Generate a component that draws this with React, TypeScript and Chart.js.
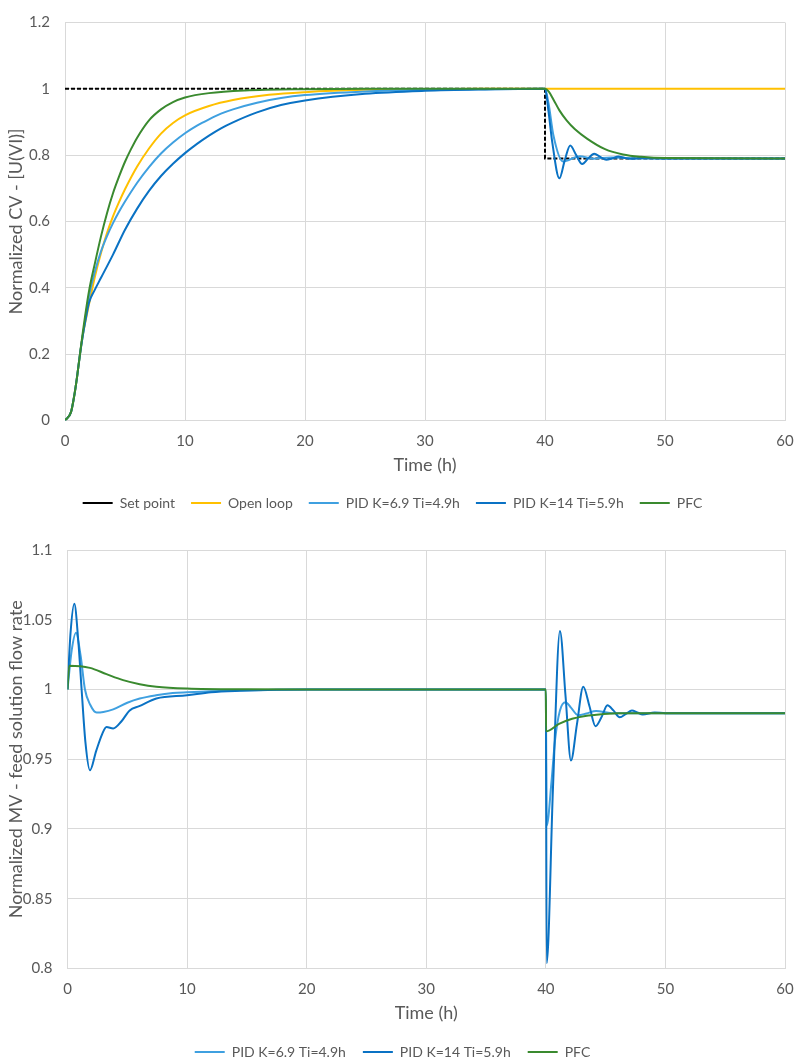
import React, { useEffect, useRef } from "react";
import { Chart, registerables } from "chart.js";

Chart.register(...registerables);

const FONT = "Lato, 'Open Sans', sans-serif";
const GREY = "#595959";
const GRID = "#d9d9d9";

// axis ticks
const timeTicks = [0, 10, 20, 30, 40, 50, 60];
const cvTicks = [0, 0.2, 0.4, 0.6, 0.8, 1, 1.2];
const mvTicks = [0.8, 0.85, 0.9, 0.95, 1, 1.05, 1.1];

// top panel - normalized CV
const setPointT = [0, 40, 40, 60];
const setPointY = [1, 1, 0.79, 0.79];

const openLoopT = [0, 0.5, 0.75, 1, 1.25, 1.5, 2, 2.5, 3, 3.5, 4, 4.5, 5, 6, 7, 8, 9, 10, 12, 14, 17, 20, 25, 30, 35, 40, 60];
const openLoopY = [0, 0.025, 0.07, 0.13, 0.2, 0.26, 0.35, 0.435, 0.505, 0.565, 0.615, 0.658, 0.697, 0.765, 0.82, 0.865, 0.897, 0.92, 0.948, 0.966, 0.982, 0.99, 0.997, 0.999, 1, 1, 1];

const pid69T = [0, 0.5, 0.75, 1, 1.25, 1.5, 2, 2.5, 3, 3.5, 4, 4.5, 5, 6, 7, 8, 9, 10, 11, 12, 13, 14, 16, 18, 20, 25, 30, 35, 40, 40.3, 40.7, 41.5, 42.9, 44, 45.5, 48, 60];
const pid69Y = [0, 0.025, 0.07, 0.13, 0.2, 0.26, 0.375, 0.45, 0.51, 0.556, 0.595, 0.629, 0.66, 0.716, 0.764, 0.805, 0.838, 0.866, 0.889, 0.908, 0.925, 0.938, 0.958, 0.972, 0.981, 0.992, 0.997, 0.999, 1, 0.955, 0.86, 0.781, 0.797, 0.789, 0.793, 0.79, 0.79];

const pid14T = [0, 0.5, 0.75, 1, 1.25, 1.5, 1.75, 2, 2.5, 3, 4, 5, 6, 7, 8, 9, 10, 11, 12, 13, 14, 16, 18, 20, 25, 30, 35, 40, 40.3, 40.6, 41.2, 41.65, 42.1, 42.6, 43.1, 43.6, 44.1, 44.6, 45.1, 45.6, 46.1, 46.6, 47.1, 48, 50, 60];
const pid14Y = [0, 0.025, 0.07, 0.13, 0.2, 0.26, 0.31, 0.355, 0.395, 0.43, 0.5, 0.575, 0.638, 0.692, 0.737, 0.774, 0.806, 0.834, 0.859, 0.881, 0.899, 0.929, 0.951, 0.965, 0.985, 0.994, 0.998, 1, 0.93, 0.84, 0.73, 0.785, 0.829, 0.8, 0.773, 0.79, 0.804, 0.795, 0.786, 0.79, 0.796, 0.792, 0.789, 0.791, 0.79, 0.79];

const pfcTopT = [0, 0.5, 0.75, 1, 1.25, 1.5, 2, 2.5, 3, 3.5, 4, 4.5, 5, 5.5, 6, 7, 8, 9, 10, 12, 15, 20, 25, 40, 40.3, 40.7, 41.2, 41.8, 42.5, 43.5, 45, 46.5, 48, 50, 60];
const pfcTopY = [0, 0.025, 0.07, 0.13, 0.2, 0.27, 0.39, 0.475, 0.555, 0.625, 0.685, 0.735, 0.78, 0.818, 0.852, 0.905, 0.938, 0.96, 0.974, 0.987, 0.995, 0.999, 1, 1, 0.992, 0.968, 0.935, 0.905, 0.878, 0.85, 0.818, 0.802, 0.795, 0.791, 0.79];

// bottom panel - normalized MV
const pid69BT = [0, 0.35, 0.71, 1.1, 1.46, 1.9, 2.43, 3, 3.82, 5, 6.04, 7.4, 8.8, 10, 12, 15, 20, 40, 40.07, 40.48, 40.76, 41.18, 41.65, 42.1, 42.7, 43.4, 44.2, 45.5, 47, 60];
const pid69BY = [1, 1.028, 1.0407, 1.024, 1, 0.989, 0.9834, 0.9838, 0.9857, 0.9905, 0.9935, 0.9958, 0.9974, 0.998, 0.9988, 0.9995, 1, 1, 0.9023, 0.9345, 0.963, 0.985, 0.9909, 0.987, 0.9815, 0.9828, 0.9846, 0.983, 0.983, 0.983];

const pid14BT = [0, 0.25, 0.57, 0.9, 1.18, 1.5, 1.875, 2.4, 2.9, 3.26, 3.82, 4.5, 5.2, 6, 7.43, 10, 12, 14.4, 20, 40, 40.07, 40.6, 41.18, 41.65, 42.1, 42.6, 43.13, 43.65, 44.15, 44.65, 45.15, 45.65, 46.18, 46.7, 47.2, 47.65, 48.1, 49.1, 50, 60];
const pid14BY = [1, 1.04, 1.0614, 1.035, 1, 0.962, 0.942, 0.956, 0.968, 0.973, 0.972, 0.977, 0.985, 0.988, 0.9935, 0.9958, 0.998, 0.999, 1, 1, 0.8038, 0.93, 1.042, 0.995, 0.949, 0.975, 1.002, 0.988, 0.9736, 0.98, 0.9887, 0.985, 0.98, 0.9825, 0.985, 0.9835, 0.982, 0.9835, 0.983, 0.983];

const pfcBT = [0, 0.15, 1.875, 3.26, 4.65, 6.04, 7.43, 10, 15, 20, 40, 40.02, 41.1, 42.2, 43.3, 44.7, 46.1, 48, 60];
const pfcBY = [1, 1.017, 1.0155, 1.011, 1.0067, 1.0038, 1.002, 1.0007, 1.0001, 1, 1, 0.97, 0.9753, 0.979, 0.981, 0.9823, 0.983, 0.983, 0.983];

const pts = (t: number[], y: number[]) => t.map((x, i) => ({ x, y: y[i] }));

const line = (label: string, color: string, t: number[], y: number[], order: number, extra: any = {}) => ({
  label,
  data: pts(t, y),
  borderColor: color,
  backgroundColor: color,
  borderWidth: 2,
  pointRadius: 0,
  cubicInterpolationMode: "monotone",
  order,
  ...extra,
});

type PanelProps = {
  datasets: any[];
  yTicks: number[];
  yTitle: string;
  axisWidth: number;
  padTop: number;
  legendPad: number;
  height: number;
};

function Panel({ datasets, yTicks, yTitle, axisWidth, padTop, legendPad, height }: PanelProps) {
  const canvasRef = useRef<HTMLCanvasElement>(null);

  useEffect(() => {
    const canvas = canvasRef.current;
    if (!canvas) return;
    const chart = new Chart(canvas, {
      type: "line",
      data: { datasets },
      options: {
        animation: false,
        responsive: false,
        layout: { padding: { top: padTop, right: 11, left: 0, bottom: 0 } },
        scales: {
          x: {
            type: "linear",
            min: 0,
            max: 60,
            afterBuildTicks: (s: any) => {
              s.ticks = timeTicks.map((v) => ({ value: v }));
            },
            ticks: {
              color: GREY,
              font: { family: FONT, size: 15 },
              padding: 0,
              autoSkip: false,
              maxRotation: 0,
              callback: (v: any) => String(v),
            },
            grid: { color: GRID, drawTicks: true, tickLength: 12, tickColor: "transparent" },
            border: { color: GRID },
            title: {
              display: true,
              text: "Time (h)",
              color: GREY,
              font: { family: FONT, size: 18 },
              padding: { top: 4, bottom: 4 },
            },
          },
          y: {
            type: "linear",
            min: yTicks[0],
            max: yTicks[yTicks.length - 1],
            afterBuildTicks: (s: any) => {
              s.ticks = yTicks.map((v) => ({ value: v }));
            },
            afterFit: (s: any) => {
              s.width = axisWidth;
            },
            ticks: {
              color: GREY,
              font: { family: FONT, size: 15, lineHeight: 1 },
              padding: 15,
              autoSkip: false,
              callback: (v: any) => String(v),
            },
            grid: { color: GRID, drawTicks: false },
            border: { color: GRID },
            title: {
              display: true,
              text: yTitle,
              color: GREY,
              font: { family: FONT, size: 18 },
              padding: { top: 5, bottom: 0 },
            },
          },
        },
        plugins: {
          legend: {
            position: "bottom",
            labels: {
              usePointStyle: true,
              pointStyle: "line",
              pointStyleWidth: 30,
              color: GREY,
              font: { family: FONT, size: 14 },
              padding: legendPad,
              sort: (a: any, b: any) => a.datasetIndex - b.datasetIndex,
            },
          },
          tooltip: { enabled: false },
        },
      } as any,
    });
    return () => chart.destroy();
  }, [datasets, yTicks, yTitle, axisWidth, padTop, legendPad, height]);

  return <canvas ref={canvasRef} width={796} height={height} style={{ display: "block", width: 796, height }} />;
}

const topSets = [
  line("Set point", "#000000", setPointT, setPointY, 5, { borderDash: [4, 2], cubicInterpolationMode: "default", tension: 0 }),
  line("Open loop", "#ffc000", openLoopT, openLoopY, 4),
  line("PID K=6.9 Ti=4.9h", "#3fa0e0", pid69T, pid69Y, 3),
  line("PID K=14 Ti=5.9h", "#0a72c4", pid14T, pid14Y, 2),
  line("PFC", "#3a8a2f", pfcTopT, pfcTopY, 1),
];

const bottomSets = [
  line("PID K=6.9 Ti=4.9h", "#3fa0e0", pid69BT, pid69BY, 3),
  line("PID K=14 Ti=5.9h", "#0a72c4", pid14BT, pid14BY, 2),
  line("PFC", "#3a8a2f", pfcBT, pfcBY, 1),
];

export default function App() {
  return (
    <div style={{ position: "absolute", left: 0, top: 0, width: 796, height: 1059, overflow: "hidden", background: "#fff" }}>
      <div style={{ position: "absolute", left: 0, top: 0 }}>
        <Panel datasets={topSets} yTicks={cvTicks} yTitle="Normalized CV - [U(VI)]" axisWidth={65} padTop={0} legendPad={16} height={520} />
      </div>
      <div style={{ position: "absolute", left: 0, top: 520 }}>
        <Panel datasets={bottomSets} yTicks={mvTicks} yTitle="Normalized MV - feed solution flow rate" axisWidth={67.5} padTop={30} legendPad={17} height={549} />
      </div>
    </div>
  );
}
